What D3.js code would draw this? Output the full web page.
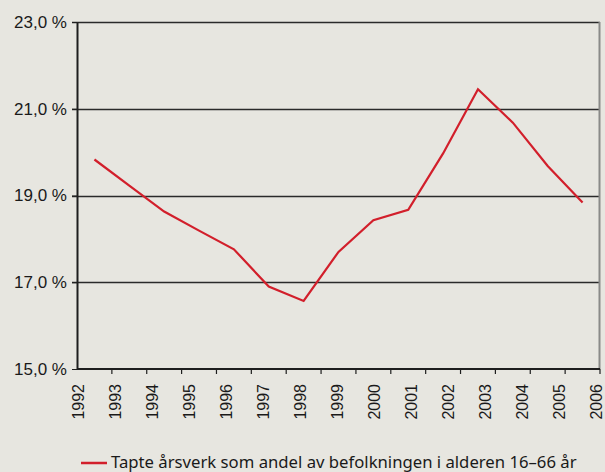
<!DOCTYPE html>
<html>
<head>
<meta charset="utf-8">
<script src="https://cdn.jsdelivr.net/npm/d3@7"></script>
<style>
  html, body { margin: 0; padding: 0; background: #e7e6e0; }
  svg { display: block; font-family: "Noto Sans", sans-serif; }
</style>
</head>
<body>
<svg id="chart"></svg>
<script>
// data
const years = ["1992","1993","1994","1995","1996","1997","1998","1999","2000","2001","2002","2003","2004","2005","2006"];
const values = [19.83, 19.23, 18.63, 18.19, 17.76, 16.90, 16.57, 17.70, 18.43, 18.67, 19.97, 21.45, 20.68, 19.68, 18.84];
const yTicks = [15, 17, 19, 21, 23];
const seriesName = "Tapte årsverk som andel av befolkningen i alderen 16–66 år";

const width = 605, height = 472;
const margin = {left: 77, right: 5, top: 22, bottom: 103};
const w = width - margin.left - margin.right,
      h = height - margin.top - margin.bottom;

const svg = d3.select("#chart")
    .attr("width", width)
    .attr("height", height);

const g = svg.append("g")
    .attr("transform", "translate(" + margin.left + "," + margin.top + ")");

// scales
const x = d3.scaleBand().domain(years).range([0, w]);
const xLabel = d3.scalePoint().domain(years).range([1, w - 4]);
const y = d3.scaleLinear().domain([15, 23]).range([h, 0]);

// gridlines
g.append("g")
    .selectAll("line")
    .data(yTicks.filter(d => d > 15))
    .enter()
    .append("line")
    .attr("x1", -5)
    .attr("x2", w)
    .attr("y1", d => Math.round(y(d)) + 0.5)
    .attr("y2", d => Math.round(y(d)) + 0.5)
    .style("stroke", "#2a2a2a")
    .style("stroke-width", 1.3);

// right border
g.append("line")
    .attr("x1", w - 0.5).attr("x2", w - 0.5)
    .attr("y1", y(23)).attr("y2", y(15))
    .style("stroke", "#8a8a88")
    .style("stroke-width", 2);

// y axis
const yAxis = d3.axisLeft(y)
    .tickValues(yTicks)
    .tickSize(5)
    .tickSizeOuter(0)
    .tickFormat(d => d3.format(".1f")(d).replace(".", ",") + " %");
const gy = g.append("g").call(yAxis);
gy.select(".domain").style("stroke", "#1e1e1e").style("stroke-width", 2);
gy.selectAll(".tick line").style("stroke", "#1e1e1e");
gy.selectAll(".tick text")
    .attr("x", -10)
    .style("font-size", "17px")
    .style("fill", "#1a1a1a");

// x axis: ticks at band edges
const gx = g.append("g").attr("transform", "translate(0," + h + ")");
gx.append("line")
    .attr("x1", 0).attr("x2", w)
    .attr("y1", 0).attr("y2", 0)
    .style("stroke", "#1e1e1e")
    .style("stroke-width", 2);
gx.selectAll(".xtick")
    .data(years.slice(1).concat(["end"]))
    .enter()
    .append("line")
    .attr("class", "xtick")
    .attr("x1", d => d === "end" ? w : x(d))
    .attr("x2", d => d === "end" ? w : x(d))
    .attr("y1", 0)
    .attr("y2", 5)
    .style("stroke", "#1e1e1e")
    .style("stroke-width", 1.2);

// x labels
const labelAxis = d3.axisBottom(xLabel).tickSize(0);
const gl = g.append("g")
    .attr("transform", "translate(0," + h + ")")
    .call(labelAxis);
gl.select(".domain").remove();
gl.selectAll(".tick text")
    .attr("transform", "rotate(-90)")
    .attr("x", -15)
    .attr("y", 0)
    .attr("dy", "0.35em")
    .style("text-anchor", "end")
    .style("font-size", "16px")
    .style("fill", "#1a1a1a");

// line
const line = d3.line()
    .x((d, i) => x(years[i]) + x.bandwidth() / 2)
    .y(d => y(d));
g.append("path")
    .datum(values)
    .attr("d", line)
    .style("fill", "none")
    .style("stroke", "#d21f2b")
    .style("stroke-width", 2.2)
    .style("stroke-linejoin", "miter");

// legend
const leg = svg.append("g").attr("transform", "translate(81,463)");
leg.append("line")
    .attr("x1", 0).attr("x2", 26)
    .attr("y1", 0).attr("y2", 0)
    .style("stroke", "#d21f2b")
    .style("stroke-width", 2.5);
leg.append("text")
    .attr("x", 30)
    .attr("y", 5)
    .style("font-size", "16.7px")
    .style("fill", "#1a1a1a")
    .text(seriesName);
</script>
</body>
</html>
